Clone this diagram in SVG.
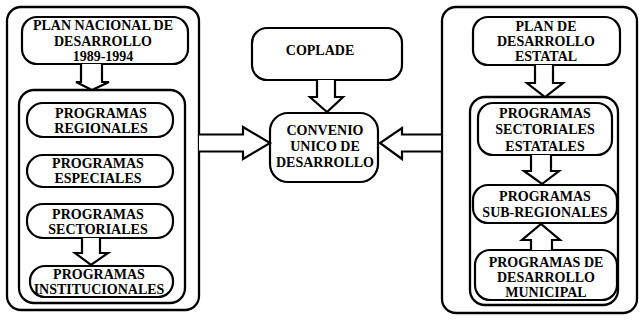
<svg xmlns="http://www.w3.org/2000/svg" width="642" height="324" viewBox="0 0 642 324">
  <style>
    .frame { fill: none; stroke: #000; stroke-width: 2.3; }
    .box { fill: #fff; stroke: #000; stroke-width: 2.2; }
    .arr { fill: #fff; stroke: #000; stroke-width: 2.2; stroke-linejoin: miter; }
    text { font-family: "Liberation Serif", "Times New Roman", serif; font-weight: bold; font-size: 14px; text-anchor: middle; fill: #000; }
  </style>
  <rect width="642" height="324" fill="#fff"/>

  <!-- Federal planning column -->
  <g id="federal">
    <rect class="frame" x="7" y="7" width="192" height="303" rx="14"/>
    <g id="plan-nacional">
      <rect class="box" x="22" y="17" width="166" height="47" rx="15"/>
      <text x="103" y="30">PLAN NACIONAL DE</text>
      <text x="103" y="46">DESARROLLO</text>
      <text x="103" y="61">1989-1994</text>
    </g>
    <rect class="frame" id="programas-federales" x="19" y="90" width="166" height="213" rx="15"/>
    <g id="regionales">
      <rect class="box" x="27" y="103" width="146" height="34" rx="16"/>
      <text x="101" y="118">PROGRAMAS</text>
      <text x="101" y="133">REGIONALES</text>
    </g>
    <g id="especiales">
      <rect class="box" x="27" y="155" width="146" height="32" rx="16"/>
      <text x="98" y="168">PROGRAMAS</text>
      <text x="98" y="183">ESPECIALES</text>
    </g>
    <g id="sectoriales">
      <rect class="box" x="27" y="204" width="146" height="34" rx="16"/>
      <text x="98" y="219">PROGRAMAS</text>
      <text x="98" y="234">SECTORIALES</text>
    </g>
    <g id="institucionales">
      <rect class="box" x="30" y="266" width="143" height="31" rx="15"/>
      <text x="99" y="279">PROGRAMAS</text>
      <text x="99" y="294">INSTITUCIONALES</text>
    </g>
  </g>

  <!-- Coordination column -->
  <g id="coplade">
    <rect class="box" x="252" y="28" width="150" height="52" rx="15"/>
    <text x="320" y="55">COPLADE</text>
  </g>
  <g id="convenio">
    <rect class="box" x="270" y="113" width="108" height="69" rx="18"/>
    <text x="325" y="135">CONVENIO</text>
    <text x="325" y="151">UNICO DE</text>
    <text x="325" y="167">DESARROLLO</text>
  </g>

  <!-- State planning column -->
  <g id="estatal">
    <rect class="frame" x="442" y="7" width="195" height="306" rx="14"/>
    <g id="plan-estatal">
      <rect class="box" x="473" y="17" width="147" height="48" rx="15"/>
      <text x="546" y="31">PLAN DE</text>
      <text x="546" y="46">DESARROLLO</text>
      <text x="546" y="61">ESTATAL</text>
    </g>
    <rect class="frame" id="programas-estatales" x="470" y="97" width="148" height="208" rx="15"/>
    <g id="sectoriales-estatales">
      <rect class="box" x="478" y="103" width="134" height="52" rx="15"/>
      <text x="545" y="118">PROGRAMAS</text>
      <text x="545" y="134">SECTORIALES</text>
      <text x="545" y="151">ESTATALES</text>
    </g>
    <g id="sub-regionales">
      <rect class="box" x="473" y="185" width="144" height="38" rx="15"/>
      <text x="545" y="201">PROGRAMAS</text>
      <text x="545" y="217">SUB-REGIONALES</text>
    </g>
    <g id="municipal">
      <rect class="box" x="475" y="250" width="142" height="50" rx="15"/>
      <text x="546" y="267">PROGRAMAS DE</text>
      <text x="546" y="282">DESARROLLO</text>
      <text x="546" y="297">MUNICIPAL</text>
    </g>
  </g>

  <!-- Block arrows -->
  <g id="connectors">
    <!-- plan nacional to federal programs -->
    <path class="arr" d="M81,64 V82 H76 L92,90 L109,82 H102 V64"/>
    <!-- sectoriales to institucionales -->
    <path class="arr" d="M82,238 V253 H75 L91,265 L108,253 H100 V238"/>
    <!-- coplade to convenio -->
    <path class="arr" d="M317,80 V97 H310 L327,112 L343,97 H335 V80"/>
    <!-- federal column to convenio -->
    <path class="arr" d="M199,134.5 H243 V127 L270,143 L243,159 V151.5 H199"/>
    <!-- state column to convenio -->
    <path class="arr" d="M441,134.5 H402 V128 L380,143 L402,159 V151.5 H441"/>
    <!-- plan estatal to state programs -->
    <path class="arr" d="M535,65 V83 H527 L545,97 L563,83 H553 V65"/>
    <!-- sectoriales estatales to sub-regionales -->
    <path class="arr" d="M531,155 V171 H524 L542,184 L559,171 H551 V155"/>
    <!-- municipal up to sub-regionales -->
    <path class="arr" d="M531,250 V240 H522 L541,224 L560,240 H552 V250"/>
  </g>
</svg>
